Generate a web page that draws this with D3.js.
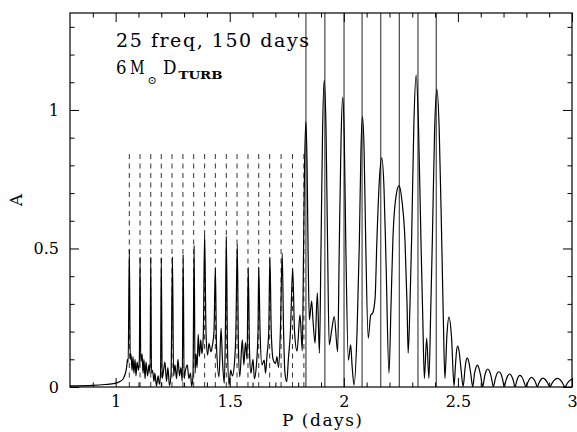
<!DOCTYPE html>
<html><head><meta charset="utf-8">
<script src="https://cdn.jsdelivr.net/npm/d3@7"></script>
<style>
body{margin:0;background:#fff}
svg{display:block}
</style></head><body>
<svg id="c" width="577" height="432"></svg>
<script>
// ---- data ----
const periodP = [
0.800,0.901,0.953,0.997,1.019,1.032,1.041,1.048,1.052,1.055,1.060,1.064,1.067,1.072,1.076,1.080,1.085,1.089,1.094,1.100,
1.104,1.107,1.110,1.116,1.120,1.124,1.129,1.133,1.140,1.146,1.151,1.154,1.157,1.162,1.168,1.172,1.179,1.186,1.192,1.197,
1.200,1.204,1.210,1.216,1.223,1.229,1.236,1.243,1.249,1.254,1.260,1.267,1.273,1.280,1.286,1.292,1.296,1.300,1.306,1.314,
1.321,1.328,1.333,1.339,1.344,1.348,1.352,1.357,1.362,1.367,1.373,1.378,1.384,1.390,1.396,1.403,1.409,1.418,1.424,1.431,
1.437,1.442,1.453,1.462,1.468,1.476,1.481,1.485,1.490,1.497,1.504,1.512,1.521,1.527,1.533,1.538,1.544,1.555,1.562,1.569,
1.576,1.581,1.587,1.593,1.602,1.608,1.617,1.624,1.627,1.633,1.641,1.651,1.657,1.663,1.671,1.676,1.682,1.690,1.701,1.707,
1.714,1.722,1.730,1.736,1.742,1.750,1.757,1.766,1.776,1.784,1.795,1.808,1.818,1.823,1.828,1.834,1.839,1.844,1.849,1.859,
1.865,1.874,1.884,1.893,1.900,1.907,1.914,1.922,1.929,1.936,1.947,1.958,1.973,1.980,1.988,1.995,2.002,2.009,2.020,2.030,
2.036,2.045,2.058,2.068,2.075,2.082,2.089,2.096,2.107,2.118,2.126,2.137,2.145,2.156,2.166,2.176,2.185,2.198,2.207,2.215,
2.229,2.242,2.255,2.268,2.277,2.282,2.290,2.297,2.307,2.317,2.327,2.338,2.346,2.353,2.363,2.373,2.381,2.388,2.398,2.408,
2.418,2.429,2.436,2.443,2.452,2.461,2.472,2.483,2.489,2.494,2.499,2.505,2.513,2.523,2.531,2.535,2.541,2.548,2.556,2.565,
2.573,2.579,2.585,2.592,2.600,2.609,2.617,2.623,2.631,2.639,2.647,2.655,2.664,2.671,2.680,2.689,2.696,2.703,2.711,2.719,
2.727,2.735,2.743,2.750,2.758,2.764,2.772,2.781,2.789,2.798,2.807,2.815,2.823,2.831,2.840,2.848,2.856,2.865,2.874,2.883,
2.893,2.903,2.914,2.925,2.937,2.948,2.958,2.969,2.980,2.991,3.000
];
const amplitude = [
0.004,0.006,0.009,0.013,0.020,0.028,0.045,0.070,0.100,0.090,0.497,0.100,0.120,0.060,0.110,0.050,0.100,0.040,0.090,0.060,
0.100,0.470,0.090,0.120,0.050,0.100,0.030,0.090,0.040,0.080,0.050,0.470,0.050,0.060,0.020,0.050,0.003,0.040,0.010,0.050,
0.468,0.030,0.060,0.090,0.020,0.070,0.005,0.050,0.470,0.040,0.080,0.030,0.100,0.040,0.070,0.020,0.478,0.030,0.060,0.080,
0.030,0.050,0.003,0.040,0.511,0.050,0.120,0.070,0.190,0.110,0.170,0.120,0.180,0.549,0.200,0.115,0.158,0.127,0.150,0.200,
0.432,0.150,0.037,0.212,0.100,0.013,0.200,0.545,0.150,0.007,0.061,0.040,0.090,0.200,0.516,0.150,0.037,0.170,0.080,0.160,
0.100,0.432,0.120,0.050,0.100,0.030,0.080,0.200,0.434,0.200,0.080,0.097,0.050,0.110,0.200,0.470,0.200,0.100,0.085,0.110,
0.070,0.200,0.483,0.200,0.050,0.019,0.100,0.200,0.428,0.200,0.130,0.260,0.130,0.450,0.800,0.958,0.800,0.450,0.242,0.310,
0.240,0.158,0.340,0.122,0.500,0.930,1.108,0.930,0.500,0.152,0.206,0.254,0.127,0.500,0.900,1.046,0.900,0.500,0.097,0.152,
0.080,0.007,0.200,0.520,0.850,0.976,0.850,0.520,0.176,0.260,0.266,0.320,0.530,0.750,0.827,0.720,0.450,0.050,0.300,0.530,
0.690,0.727,0.670,0.530,0.300,0.122,0.300,0.530,0.950,1.126,0.950,0.530,0.250,0.031,0.176,0.031,0.280,0.530,0.930,1.075,
0.930,0.530,0.250,0.031,0.190,0.252,0.180,0.004,0.075,0.130,0.148,0.130,0.070,0.002,0.065,0.092,0.104,0.090,0.050,0.001,
0.050,0.070,0.079,0.068,0.040,0.001,0.038,0.057,0.065,0.056,0.033,0.001,0.030,0.048,0.055,0.047,0.027,0.001,0.025,0.041,
0.047,0.040,0.023,0.001,0.022,0.036,0.042,0.035,0.020,0.001,0.018,0.030,0.035,0.030,0.017,0.001,0.016,0.028,0.032,0.027,
0.015,0.001,0.016,0.027,0.031,0.026,0.015,0.001,0.014,0.024,0.028
];
const dashedP = [1.060,1.107,1.154,1.200,1.247,1.295,1.342,1.390,1.437,1.485,1.532,1.580,1.627,1.675,1.725,1.775,1.825];
const dashedTop = 0.85;
const solidP = [1.834,1.917,2.001,2.080,2.162,2.243,2.325,2.405];
const xMajorTicks = [1, 1.5, 2, 2.5, 3];
const yMajorTicks = [0, 0.5, 1];
const xMinorTicks = [0.9,1.1,1.2,1.3,1.4,1.6,1.7,1.8,1.9,2.1,2.2,2.3,2.4,2.6,2.7,2.8,2.9];
const yMinorTicks = [0.1,0.2,0.3,0.4,0.6,0.7,0.8,0.9,1.1,1.2,1.3];
const xDomain = [0.8, 3];
const yDomain = [0, 1.35];

// ---- layout ----
const FONT = '"DejaVu Serif","Liberation Serif",serif';
const L = 70, R = 572, T = 13, B = 387;
const svg = d3.select("#c");
const x = d3.scaleLinear().domain(xDomain).range([L, R]);
const y = d3.scaleLinear().domain(yDomain).range([B, T]);

svg.append("defs").append("clipPath").attr("id","clip")
  .append("rect").attr("x",L).attr("y",T).attr("width",R-L).attr("height",B-T);

const plot = svg.append("g").attr("clip-path","url(#clip)");

// dashed lines
plot.selectAll("line.d").data(dashedP).join("line")
  .attr("x1",d=>x(d)).attr("x2",d=>x(d))
  .attr("y1",y(0)).attr("y2",y(dashedTop))
  .attr("stroke","#333").attr("stroke-width",1).attr("stroke-dasharray","5,4.5");

// solid lines
plot.selectAll("line.s").data(solidP).join("line")
  .attr("x1",d=>x(d)).attr("x2",d=>x(d))
  .attr("y1",y(0)).attr("y2",y(yDomain[1]))
  .attr("stroke","#222").attr("stroke-width",1);

// curve
const pts = periodP.map((p,i)=>[p, amplitude[i]]);
plot.append("path").datum(pts)
  .attr("fill","none").attr("stroke","#000").attr("stroke-width",1.2)
  .attr("stroke-linejoin","round")
  .attr("d", d3.line().x(d=>x(d[0])).y(d=>y(d[1])).curve(d3.curveMonotoneX));

// axes
const fmt = d3.format("~g");
function styleAxis(g){
  g.attr("font-family", FONT).attr("font-size", 16);
  g.select(".domain").remove();
  g.selectAll("line").attr("stroke","#000").attr("stroke-width",1);
  g.selectAll("text").attr("fill","#000");
}
svg.append("g").attr("transform",`translate(0,${B})`)
  .call(d3.axisBottom(x).tickValues(xMajorTicks).tickSize(-9).tickPadding(9).tickFormat(fmt)).call(styleAxis);
svg.append("g").attr("transform",`translate(0,${B})`)
  .call(d3.axisBottom(x).tickValues(xMinorTicks).tickSize(-4.5).tickFormat("")).call(styleAxis);
svg.append("g").attr("transform",`translate(0,${T})`)
  .call(d3.axisTop(x).tickValues(xMajorTicks).tickSize(-9).tickFormat("")).call(styleAxis);
svg.append("g").attr("transform",`translate(0,${T})`)
  .call(d3.axisTop(x).tickValues(xMinorTicks).tickSize(-4.5).tickFormat("")).call(styleAxis);
svg.append("g").attr("transform",`translate(${L},0)`)
  .call(d3.axisLeft(y).tickValues(yMajorTicks).tickSize(-9).tickPadding(11).tickFormat(fmt)).call(styleAxis);
svg.append("g").attr("transform",`translate(${L},0)`)
  .call(d3.axisLeft(y).tickValues(yMinorTicks).tickSize(-4.5).tickFormat("")).call(styleAxis);
svg.append("g").attr("transform",`translate(${R},0)`)
  .call(d3.axisRight(y).tickValues(yMajorTicks).tickSize(-9).tickFormat("")).call(styleAxis);
svg.append("g").attr("transform",`translate(${R},0)`)
  .call(d3.axisRight(y).tickValues(yMinorTicks).tickSize(-4.5).tickFormat("")).call(styleAxis);

// frame
svg.append("rect").attr("x",L).attr("y",T).attr("width",R-L).attr("height",B-T)
  .attr("fill","none").attr("stroke","#000").attr("stroke-width",1.2);

// axis titles
const txt = (sel)=>sel.attr("font-family",FONT).attr("fill","#000");
svg.append("text").call(txt).attr("x",282).attr("y",426).attr("font-size",17)
  .attr("textLength",80).attr("lengthAdjust","spacing").text("P (days)");
svg.append("text").call(txt).attr("transform","translate(22,200) rotate(-90)").attr("text-anchor","middle")
  .attr("font-size",17).text("A");

// annotations
svg.append("text").call(txt).attr("x",116).attr("y",47).attr("font-size",19)
  .attr("textLength",193).attr("lengthAdjust","spacing").text("25 freq, 150 days");
svg.append("text").call(txt).attr("x",116).attr("y",74).attr("font-size",19)
  .attr("textLength",10.5).attr("lengthAdjust","spacingAndGlyphs").text("6");
svg.append("text").call(txt).attr("x",130).attr("y",74).attr("font-size",19)
  .attr("textLength",14.5).attr("lengthAdjust","spacingAndGlyphs").text("M");
svg.append("text").call(txt).attr("x",147.5).attr("y",84).attr("font-size",11).text("⊙");
svg.append("text").call(txt).attr("x",163).attr("y",74).attr("font-size",19)
  .attr("textLength",13.5).attr("lengthAdjust","spacingAndGlyphs").text("D");
svg.append("text").call(txt).attr("x",178.5).attr("y",78.5).attr("font-size",10.5).attr("font-weight","bold")
  .attr("textLength",44).attr("lengthAdjust","spacingAndGlyphs").text("TURB");
</script>
</body></html>
